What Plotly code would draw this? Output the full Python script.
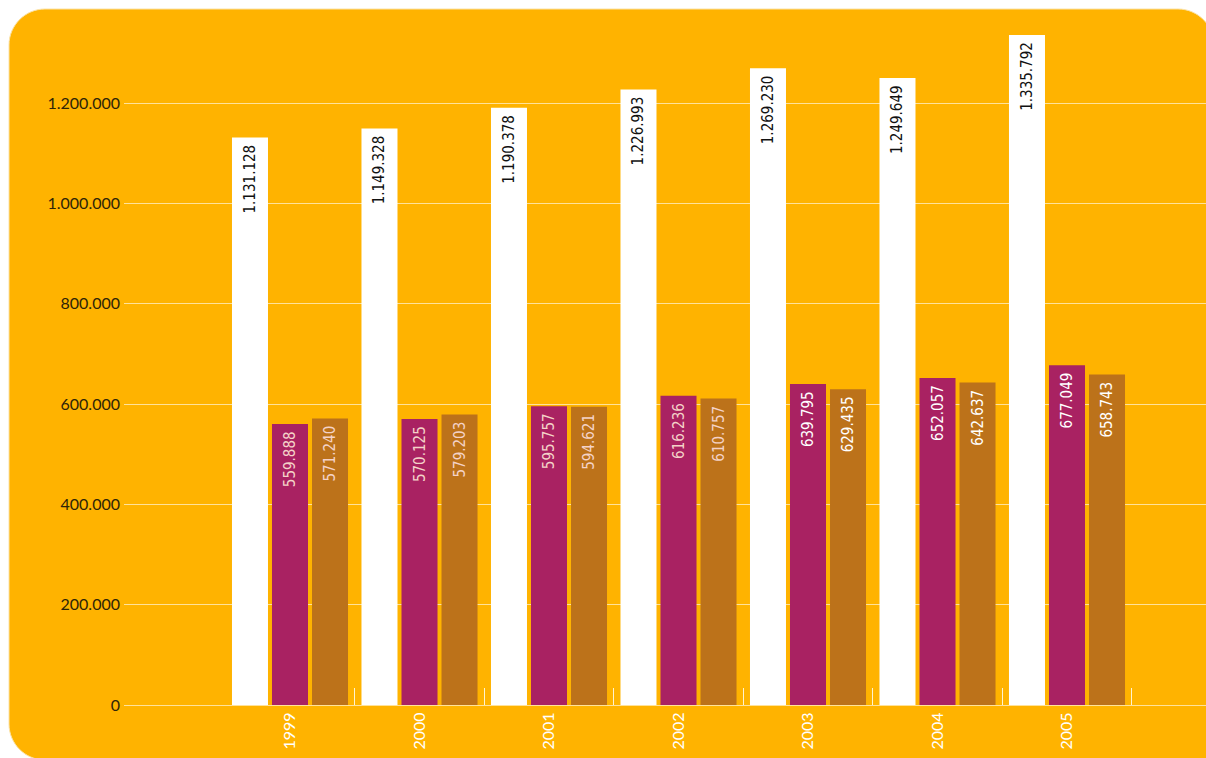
import plotly.graph_objects as go

# ---------------------------------------------------------------------------
# Data
# ---------------------------------------------------------------------------

years = ["1999", "2000", "2001", "2002", "2003", "2004", "2005"]
total = [1131128, 1149328, 1190378, 1226993, 1269230, 1249649, 1335792]
series_a = [559888, 570125, 595757, 616236, 639795, 652057, 677049]
series_b = [571240, 579203, 594621, 610757, 629435, 642637, 658743]
y_ticks = [0, 200000, 400000, 600000, 800000, 1000000, 1200000]

COLORS = {
    "card": "#FFB300",
    "white": "#FFFFFF",
    "magenta": "#A92262",
    "brown": "#BC721A",
    "grid": "#FFE29A",
    "ink": "#2E2408",
}

W, H = 1206, 758
M_L, M_R, M_T, M_B = 124, 0, 20, 53

LABEL_FONT = "DejaVu Sans Condensed, Liberation Sans Narrow, Roboto Condensed, sans-serif"
AXIS_FONT = "Lato, Noto Sans, sans-serif"

x = list(range(len(years)))
soft = ["#F4D2C8"] * 4 + ["#FFFFFF"] * 3


def bar(values, color, text_colors):
    return go.Bar(
        x=x, y=values,
        marker=dict(color=color, line=dict(width=0)),
        texttemplate="%{y:,d}\u00a0",
        textposition="inside",
        insidetextanchor="end",
        textangle=-90,
        insidetextfont=dict(family=LABEL_FONT, size=15, color=text_colors),
        cliponaxis=False,
        showlegend=False,
    )


fig = go.Figure([
    bar(total, COLORS["white"], "#111111"),
    bar(series_a, COLORS["magenta"], soft),
    bar(series_b, COLORS["brown"], soft),
])

# rounded card behind the plot, given in page pixels and mapped to paper units
pw, ph = W - M_L - M_R, H - M_T - M_B


def px(xp, yp):
    return f"{(xp - M_L) / pw:.5f},{(H - M_B - yp) / ph:.5f}"


x0, y0, x1, y1, r = 9, 9, 1214, 760, 36
k = r * 0.45
card = (
    f"M{px(x0 + r, y0)} L{px(x1 - r, y0)} "
    f"C{px(x1 - k, y0)} {px(x1, y0 + k)} {px(x1, y0 + r)} "
    f"L{px(x1, y1 + 20)} L{px(x0 + r, y1 + 20)} L{px(x0 + r, y1)} "
    f"C{px(x0 + k, y1)} {px(x0, y1 - k)} {px(x0, y1 - r)} "
    f"L{px(x0, y0 + r)} "
    f"C{px(x0, y0 + k)} {px(x0 + k, y0)} {px(x0 + r, y0)} Z"
)
fig.add_shape(type="path", path=card, xref="paper", yref="paper", layer="below",
              fillcolor=COLORS["card"], line=dict(color="#FBE3A8", width=1))

step = 129.5
left = (290 - M_L) / step
fig.update_layout(
    width=W, height=H,
    margin=dict(l=M_L, r=M_R, t=M_T, b=M_B),
    paper_bgcolor="white",
    plot_bgcolor="rgba(0,0,0,0)",
    separators=",.",
    barmode="group",
    bargap=0.073,
    bargroupgap=0.1,
    showlegend=False,
    xaxis=dict(
        range=[-left, -left + pw / step],
        tickmode="array", tickvals=x, ticktext=years,
        tickangle=-90, ticks="",
        tickfont=dict(family=AXIS_FONT, size=16, color="#FFFFFF"),
        showgrid=False, zeroline=False,
        showline=True, linecolor=COLORS["grid"], linewidth=1,
        minor=dict(tickmode="array", tickvals=[i + 0.5 for i in x],
                   ticks="inside", ticklen=17, tickwidth=1, tickcolor="#FFF3D0"),
        fixedrange=True,
    ),
    yaxis=dict(
        range=[0, 1200000 * ph / 602],
        tickmode="array", tickvals=y_ticks, tickformat=",d",
        tickfont=dict(family=AXIS_FONT, size=16, color=COLORS["ink"]),
        showgrid=True, gridcolor=COLORS["grid"], gridwidth=1,
        zeroline=True, zerolinecolor=COLORS["grid"], zerolinewidth=1,
        ticks="", ticklabelstandoff=3,
        fixedrange=True,
    ),
)

# drop the default body margin so the figure fills the window exactly
fig.write_html(
    "out.html",
    config={"displayModeBar": False},
    post_script="document.body.style.margin='0';"
                "document.documentElement.style.overflow='hidden';",
)
